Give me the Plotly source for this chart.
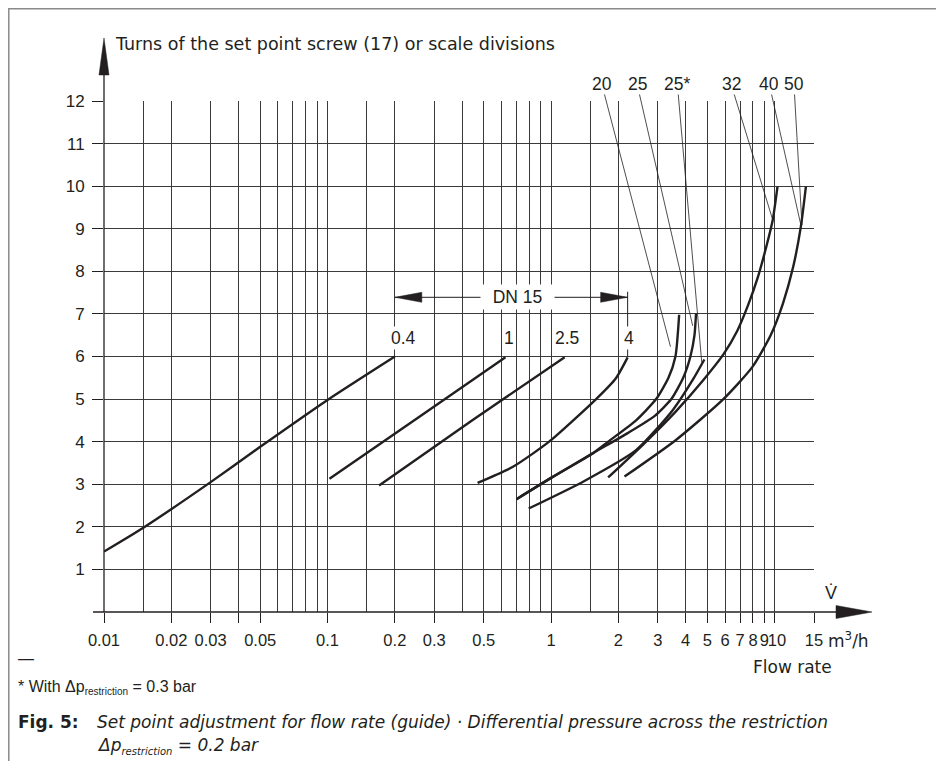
import numpy as np
import plotly.graph_objects as go

# ---------------- data ----------------
x_major_ticks = [0.01, 0.02, 0.03, 0.04, 0.05, 0.1, 0.2, 0.3, 0.5, 1, 2, 3, 4, 5, 6, 7, 8, 9, 10, 15]
x_major_labels = ["0.01", "0.02", "0.03", "", "0.05", "0.1", "0.2", "0.3", "0.5", "1", "2", "3",
                  "4", "5", "6", "7", "8", "9", "\u00a010", "15"]
x_minor_grid = [0.015, 0.06, 0.07, 0.08, 0.09, 0.15, 0.4, 0.6, 0.7, 0.8, 0.9, 1.5]
y_ticks = [1, 2, 3, 4, 5, 6, 7, 8, 9, 10, 11, 12]

# DN 15 curves (Kvs 0.4, 1, 2.5, 4)
dn15_04_x = [0.01, 0.015, 0.03, 0.05, 0.1, 0.2]
dn15_04_y = [1.42, 1.98, 3.05, 3.88, 4.98, 6.0]
dn15_1_x = [0.102, 0.25, 0.625]
dn15_1_y = [3.13, 4.54, 5.98]
dn15_25_x = [0.17, 0.446, 1.15]
dn15_25_y = [2.97, 4.51, 5.98]
dn15_4_x = [0.469, 0.675, 0.98, 1.59, 1.95, 2.2]
dn15_4_y = [3.03, 3.41, 4.0, 5.0, 5.49, 5.98]

# larger nominal sizes
dn20_x = [0.70, 1.0, 1.54, 1.8, 2.4, 2.95, 3.35, 3.6, 3.74]
dn20_y = [2.65, 3.15, 3.73, 4.0, 4.5, 5.0, 5.5, 6.0, 6.98]
dn25_x = [0.70, 1.0, 1.54, 2.2, 2.9, 3.45, 3.9, 4.2, 4.38, 4.45]
dn25_y = [2.65, 3.15, 3.73, 4.2, 4.6, 5.0, 5.5, 6.0, 6.5, 7.01]
dn25s_x = [0.794, 1.39, 2.40, 3.50, 4.3, 4.85]
dn25s_y = [2.43, 3.06, 3.80, 4.74, 5.45, 5.93]
dn32_x = [1.80, 2.6, 3.6, 4.8, 5.9, 6.8, 7.6, 8.4, 9.2, 9.8, 10.3]
dn32_y = [3.16, 3.95, 4.7, 5.45, 6.05, 6.6, 7.2, 7.85, 8.6, 9.2, 9.99]
dn4050_x = [2.13, 3.62, 5.85, 7.94, 9.6, 10.9, 12.1, 13.1, 13.8]
dn4050_y = [3.18, 4.04, 4.98, 5.75, 6.5, 7.25, 8.1, 9.05, 9.99]

curves = [
    (dn15_04_x, dn15_04_y), (dn15_1_x, dn15_1_y), (dn15_25_x, dn15_25_y), (dn15_4_x, dn15_4_y),
    (dn20_x, dn20_y), (dn25_x, dn25_y), (dn25s_x, dn25s_y), (dn32_x, dn32_y), (dn4050_x, dn4050_y),
]

# labels of the DN 15 curves
dn15_label_text = ["0.4", "1", "2.5", "4"]
dn15_label_x = [0.219, 0.645, 1.18, 2.22]
dn15_label_y = 6.43
dn15_span_x = [0.2, 2.2]
dn15_span_y = 7.39
dn15_text_x = 0.708
dn15_stub_y = [6.0, 7.52]

# labels of the larger sizes with leader lines
size_label_text = ["20", "25", "25*", "32", "40", "50"]
size_label_x = [1.685, 2.425, 3.67, 6.38, 9.46, 12.2]
size_label_y = 12.40
leader_head_x = [3.42, 4.3, 4.72, 9.75, 13.1, 13.25]
leader_head_y = [6.23, 6.72, 5.86, 9.25, 9.09, 9.09]

# ---------------- layout constants ----------------
W, H = 936, 753
ML, MR, MT, MB = 96, 130, 93, 149
PW = W - ML - MR            # 710
PH = H - MT - MB            # 511
X0S, Y0S = 104, 612         # plot origin in screen pixels (page has an 8px body margin)
NUM = "Liberation Sans, Arial, sans-serif"
TXT = "DejaVu Sans, Liberation Sans, sans-serif"
INK = "#231f20"
GRID = "#3a3a3a"


def pxx(xp):
    return (xp - X0S) / PW


def pyy(yp):
    return (Y0S - yp) / PH


fig = go.Figure()

for cx, cy in curves:
    fig.add_trace(go.Scatter(x=cx, y=cy, mode="lines",
                             line=dict(color=INK, width=2.4, shape="spline", smoothing=0.6),
                             hoverinfo="skip", showlegend=False))

# DN 15 span line and the vertical stub at the right end
fig.add_trace(go.Scatter(x=dn15_span_x, y=[dn15_span_y, dn15_span_y], mode="lines",
                         line=dict(color=INK, width=1), hoverinfo="skip", showlegend=False))
fig.add_trace(go.Scatter(x=[dn15_span_x[1], dn15_span_x[1]], y=dn15_stub_y, mode="lines",
                         line=dict(color=INK, width=1), hoverinfo="skip", showlegend=False))

annotations = []
annotations.append(dict(x=np.log10(dn15_text_x), y=dn15_span_y, xref="x", yref="y",
                        text="\u00a0\u00a0DN 15\u00a0\u00a0", showarrow=False, bgcolor="white",
                        borderpad=2, font=dict(size=17.5, color=INK, family=NUM)))
for t, lx in zip(dn15_label_text, dn15_label_x):
    annotations.append(dict(x=np.log10(lx), y=dn15_label_y, xref="x", yref="y", text=t,
                            showarrow=False, bgcolor="white", borderpad=1,
                            font=dict(size=17.5, color=INK, family=NUM)))
for t, lx, hx, hy in zip(size_label_text, size_label_x, leader_head_x, leader_head_y):
    annotations.append(dict(x=np.log10(hx), y=hy, xref="x", yref="y",
                            ax=np.log10(lx), ay=size_label_y, axref="x", ayref="y",
                            text=t, showarrow=True, arrowhead=0, arrowwidth=0.8,
                            arrowcolor=INK, standoff=0, startstandoff=0, borderpad=0,
                            font=dict(size=17.5, color=INK, family=NUM)))

annotations += [
    dict(x=pxx(113), y=pyy(44), xref="paper", yref="paper", xanchor="left", yanchor="middle",
         text="Turns of the set point screw (17) or scale divisions", showarrow=False,
         font=dict(size=17.5, color=INK, family=TXT)),
    dict(x=pxx(823), y=pyy(593), xref="paper", yref="paper", xanchor="left", yanchor="middle",
         text="V\u0307", showarrow=False, font=dict(size=18, color=INK, family=NUM)),
    dict(x=pxx(826), y=pyy(640), xref="paper", yref="paper", xanchor="left", yanchor="middle",
         text="m<sup>3</sup>/h", showarrow=False, font=dict(size=17, color=INK, family=TXT)),
    dict(x=pxx(834), y=pyy(667), xref="paper", yref="paper", xanchor="right", yanchor="middle",
         text="Flow rate", showarrow=False, font=dict(size=17, color=INK, family=TXT)),
    dict(x=pxx(16), y=pyy(658), xref="paper", yref="paper", xanchor="left", yanchor="middle",
         text="\u2014", showarrow=False, font=dict(size=16, color=INK, family=NUM)),
    dict(x=pxx(16), y=pyy(687), xref="paper", yref="paper", xanchor="left", yanchor="middle",
         text="* With \u0394p<sub><span style='font-size:10px'>restriction</span></sub> = 0.3 bar",
         showarrow=False, font=dict(size=16, color=INK, family=NUM)),
    dict(x=pxx(16), y=pyy(722), xref="paper", yref="paper", xanchor="left", yanchor="middle",
         text="<b>Fig. 5:</b>", showarrow=False, font=dict(size=17, color=INK, family=TXT)),
    dict(x=pxx(95), y=pyy(722), xref="paper", yref="paper", xanchor="left", yanchor="middle",
         text="<i>Set point adjustment for flow rate (guide) \u00b7 Differential pressure across the restriction</i>",
         showarrow=False, font=dict(size=17, color=INK, family=TXT)),
    dict(x=pxx(95), y=pyy(746), xref="paper", yref="paper", xanchor="left", yanchor="middle",
         text="<i>\u0394p<sub><span style='font-size:10px'>restriction</span></sub> = 0.2 bar</i>",
         showarrow=False, font=dict(size=17, color=INK, family=TXT)),
]

shapes = [
    dict(type="line", xref="paper", yref="paper", x0=pxx(93), x1=pxx(838), y0=0, y1=0,
         line=dict(color=INK, width=1.3)),
    dict(type="path", xref="paper", yref="paper",
         path=f"M {pxx(836)},{pyy(605.5)} L {pxx(872)},{pyy(612)} L {pxx(836)},{pyy(618.5)} Z",
         fillcolor=INK, line=dict(color=INK, width=0.5)),
    dict(type="line", xref="paper", yref="paper", x0=0, x1=0, y0=0, y1=pyy(74),
         line=dict(color=INK, width=1.3)),
    dict(type="path", xref="paper", yref="paper",
         path=f"M {pxx(99)},{pyy(75)} L {pxx(104)},{pyy(38)} L {pxx(109)},{pyy(75)} Z",
         fillcolor=INK, line=dict(color=INK, width=0.5)),
    dict(type="path", xref="x", yref="y", xsizemode="pixel", ysizemode="pixel",
         xanchor=dn15_span_x[0], yanchor=dn15_span_y,
         path="M 0,0 L 27,5 L 27,-5 Z", fillcolor=INK, line=dict(color=INK, width=0.5)),
    dict(type="path", xref="x", yref="y", xsizemode="pixel", ysizemode="pixel",
         xanchor=dn15_span_x[1], yanchor=dn15_span_y,
         path="M 0,0 L -27,5 L -27,-5 Z", fillcolor=INK, line=dict(color=INK, width=0.5)),
    dict(type="rect", xref="paper", yref="paper", x0=pxx(8.8), x1=pxx(939.5), y0=pyy(8.8), y1=pyy(800),
         line=dict(color="#8a8a8a", width=1.5)),
]

fig.update_layout(
    width=W, height=H,
    margin=dict(l=ML, r=MR, t=MT, b=MB),
    plot_bgcolor="white", paper_bgcolor="white",
    showlegend=False,
    font=dict(family=NUM, size=17, color=INK),
    annotations=annotations,
    shapes=shapes,
    xaxis=dict(type="log", range=[np.log10(0.01), np.log10(15)],
               tickmode="array", tickvals=x_major_ticks, ticktext=x_major_labels,
               ticks="outside", ticklen=10, tickwidth=1, tickcolor=INK, tickangle=0,
               ticklabelstandoff=3,
               showgrid=True, gridcolor=GRID, gridwidth=1, showline=False, zeroline=False,
               minor=dict(tickmode="array", tickvals=x_minor_grid, showgrid=True,
                          gridcolor=GRID, gridwidth=1, ticks=""),
               tickfont=dict(size=16.5, color=INK, family=NUM), fixedrange=True),
    yaxis=dict(range=[0, 12], tickmode="array", tickvals=y_ticks,
               ticks="outside", ticklen=11, tickwidth=1, tickcolor=INK,
               ticklabelstandoff=4,
               showgrid=True, gridcolor=GRID, gridwidth=1, showline=False, zeroline=False,
               tickfont=dict(size=17, color=INK, family=NUM), fixedrange=True),
)

fig.write_html("out.html")
